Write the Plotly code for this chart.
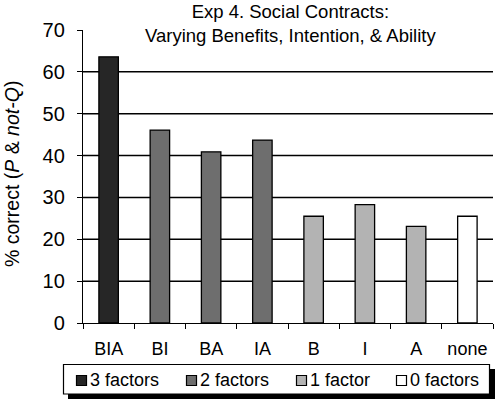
import plotly.graph_objects as go

categories = ["BIA", "BI", "BA", "IA", "B", "I", "A", "none"]
values = [63.6, 46.1, 40.9, 43.7, 25.5, 28.3, 23.1, 25.5]
groups = ["3 factors", "2 factors", "2 factors", "2 factors", "1 factor", "1 factor", "1 factor", "0 factors"]
group_order = ["3 factors", "2 factors", "1 factor", "0 factors"]
group_colors = {"3 factors": "#262626", "2 factors": "#6e6e6e", "1 factor": "#b3b3b3", "0 factors": "#ffffff"}
y_ticks = [0, 10, 20, 30, 40, 50, 60, 70]
grid_vals = [10, 20, 30, 40, 50, 60]

FONT = "Liberation Sans, Arial, sans-serif"
W, H = 498, 404
# plot area in page pixels: x 83..493, y 30..323
ML, MT = 83, 30
MR, MB = W - 493, H - 323
PW, PH = W - ML - MR, H - MT - MB


def px(x):
    return (x - ML) / PW


def py(y):
    return (H - MB - y) / PH


fig = go.Figure()
for g in group_order:
    xs = [c for c, gg in zip(categories, groups) if gg == g]
    ys = [v for v, gg in zip(values, groups) if gg == g]
    fig.add_trace(go.Bar(
        x=xs, y=ys, name=g, width=0.38, showlegend=False,
        marker=dict(color=group_colors[g], line=dict(color="black", width=1.3)),
    ))

for gv in grid_vals:
    fig.add_shape(type="line", xref="paper", yref="y", x0=0, x1=1, y0=gv, y1=gv,
                  line=dict(color="black", width=1.5), layer="below")

# legend (shadow, box, swatches, labels)
fig.add_shape(type="rect", xref="paper", yref="paper",
              x0=px(68), x1=px(495), y0=py(399), y1=py(369),
              fillcolor="black", line=dict(width=0), layer="above")
fig.add_shape(type="rect", xref="paper", yref="paper",
              x0=px(63.5), x1=px(489.5), y0=py(394), y1=py(364.5),
              fillcolor="white", line=dict(color="black", width=1.2), layer="above")
swatch_x = [76.5, 186.5, 296.5, 396.5]
text_x = [88, 198, 308, 408]
for g, sx, tx in zip(group_order, swatch_x, text_x):
    fig.add_shape(type="rect", xref="paper", yref="paper",
                  x0=px(sx), x1=px(sx + 10), y0=py(385.5), y1=py(375.5),
                  fillcolor=group_colors[g], line=dict(color="black", width=1.2), layer="above")
    fig.add_annotation(text=g, xref="paper", yref="paper", x=px(tx), y=py(380),
                       xanchor="left", yanchor="middle", showarrow=False,
                       font=dict(size=18, family=FONT, color="black"))

# title
fig.add_annotation(text="Exp 4. Social Contracts:<br>Varying Benefits, Intention, & Ability",
                   xref="paper", yref="paper", x=px(290), y=py(23.5),
                   xanchor="center", yanchor="middle", showarrow=False,
                   font=dict(size=18.5, family=FONT, color="black"))

# y-axis title
fig.add_annotation(text="% correct (<i>P</i> & <i>not-Q</i>)",
                   xref="paper", yref="paper", x=px(12), y=py(174),
                   xanchor="center", yanchor="middle", showarrow=False, textangle=-90,
                   font=dict(size=19.5, family=FONT, color="black"))

fig.update_layout(
    width=W, height=H,
    margin=dict(l=ML, r=MR, t=MT, b=MB),
    paper_bgcolor="white", plot_bgcolor="white",
    barmode="overlay",
    font=dict(family=FONT, color="black"),
    showlegend=False,
    xaxis=dict(categoryorder="array", categoryarray=categories, automargin=False,
               showline=True, linecolor="black", linewidth=1.3,
               ticks="outside", tickson="boundaries", ticklen=5, tickcolor="black",
               tickfont=dict(size=18, family=FONT), showgrid=False, ticklabelstandoff=9),
    yaxis=dict(range=[0, 70], tickvals=y_ticks, automargin=False,
               showline=True, linecolor="black", linewidth=1.3,
               ticks="outside", ticklen=5, tickcolor="black", showgrid=False, zeroline=False,
               tickfont=dict(size=20, family=FONT), ticklabelstandoff=8),
)

fig.write_html("out.html", config={"displayModeBar": False},
               post_script="document.body.style.margin = '0px';")
